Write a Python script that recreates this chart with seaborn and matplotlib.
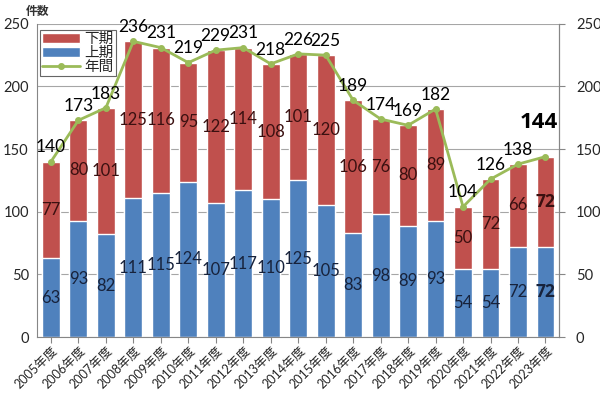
import numpy as np
import pandas as pd
import matplotlib
matplotlib.use("Agg")
import matplotlib.pyplot as plt
import seaborn as sns

# Data
years = ["2005年度", "2006年度", "2007年度", "2008年度", "2009年度", "2010年度",
         "2011年度", "2012年度", "2013年度", "2014年度", "2015年度", "2016年度",
         "2017年度", "2018年度", "2019年度", "2020年度", "2021年度", "2022年度",
         "2023年度"]
first_half = [63, 93, 82, 111, 115, 124, 107, 117, 110, 125, 105, 83, 98, 89, 93, 54, 54, 72, 72]
second_half = [77, 80, 101, 125, 116, 95, 122, 114, 108, 101, 120, 106, 76, 80, 89, 50, 72, 66, 72]
annual = [140, 173, 183, 236, 231, 219, 229, 231, 218, 226, 225, 189, 174, 169, 182, 104, 126, 138, 144]
yticks = [0, 50, 100, 150, 200, 250]

df = pd.DataFrame({"year": years, "上期": first_half, "下期": second_half, "年間": annual})

sns.set_style("white")
plt.rcParams['font.family'] = ['Lato', 'Noto Sans CJK JP', 'DejaVu Sans']

red = "#C0504D"
blue = "#4F81BD"
green = "#9BBB59"

fig = plt.figure(figsize=(6, 3.97), dpi=100)
ax = fig.add_axes([0.062, 0.151, 0.870, 0.789])

# stacked bars: total in red, lower part in blue on top of it
sns.barplot(data=df, x="year", y="年間", color=red, width=0.65, saturation=1,
            ax=ax, label="下期")
sns.barplot(data=df, x="year", y="上期", color=blue, width=0.65, saturation=1,
            ax=ax, label="上期")
sns.pointplot(data=df, x="year", y="年間", color=green, markers="o",
              markersize=3.5, linewidth=2, ax=ax, label="年間")

ax.set_ylim(0, 250)
ax.set_yticks(yticks)
ax.set_xlim(-0.5, len(years) - 0.5)
ax.yaxis.grid(True, color="#a6a6a6", linewidth=0.8)
ax.set_axisbelow(True)
ax.set_xlabel("")
ax.set_ylabel("")
ax.spines["top"].set_visible(False)
ax.spines["left"].set_color("#868686")
ax.spines["bottom"].set_color("#868686")
ax.spines["right"].set_color("#868686")
ax.tick_params(axis="y", labelsize=10.5, length=0, pad=6)
ax.tick_params(axis="x", labelsize=9, length=4, color="#868686", bottom=True,
               direction="out", pad=1)
plt.setp(ax.get_xticklabels(), rotation=45, ha="right", rotation_mode="anchor")

ax2 = ax.twinx()
ax2.set_ylim(0, 250)
ax2.set_yticks(yticks)
ax2.tick_params(axis="y", labelsize=10.5, length=4, color="#868686", pad=8)
for s in ["top", "left", "bottom"]:
    ax2.spines[s].set_visible(False)
ax2.spines["right"].set_color("#868686")

# labels (last year highlighted in bold)
bold_font = ['Open Sans', 'DejaVu Sans']
n = len(years)
for i in range(n):
    if i == n - 1:
        ax.text(i, first_half[i] / 2, str(first_half[i]), ha="center", va="center",
                fontsize=12.5, color="#17223b", fontweight="bold", family=bold_font)
        ax.text(i, first_half[i] + second_half[i] / 2, str(second_half[i]),
                ha="center", va="center", fontsize=12.5, color="#3a1010",
                fontweight="bold", family=bold_font)
        ax.text(i - 0.25, 171, str(annual[i]), ha="center", va="center",
                fontsize=16, fontweight="bold", color="black", family=bold_font)
    else:
        ax.text(i, first_half[i] / 2, str(first_half[i]), ha="center", va="center",
                fontsize=12, color="#17223b")
        ax.text(i, first_half[i] + second_half[i] / 2, str(second_half[i]),
                ha="center", va="center", fontsize=12, color="#3a1010")
        ax.text(i, annual[i] + 5, str(annual[i]), ha="center", va="bottom",
                fontsize=12.5, color="black", clip_on=False)

fig.text(0.062, 0.972, "件数", fontsize=8.5, ha="center", va="center",
         fontweight="bold", color="#333333")

handles, labels = ax.get_legend_handles_labels()
order = [labels.index(k) for k in ["下期", "上期", "年間"]]
leg = ax.legend([handles[k] for k in order], [labels[k] for k in order],
                loc="upper left", bbox_to_anchor=(0.003, 0.985),
                fontsize=10.5, frameon=True, fancybox=False, edgecolor="#404040",
                borderpad=0.15, labelspacing=0.0, handlelength=2.6, handleheight=0.6,
                handletextpad=0.3, borderaxespad=0.1)
leg.get_frame().set_linewidth(0.8)

fig.savefig("out.png", dpi=100)
